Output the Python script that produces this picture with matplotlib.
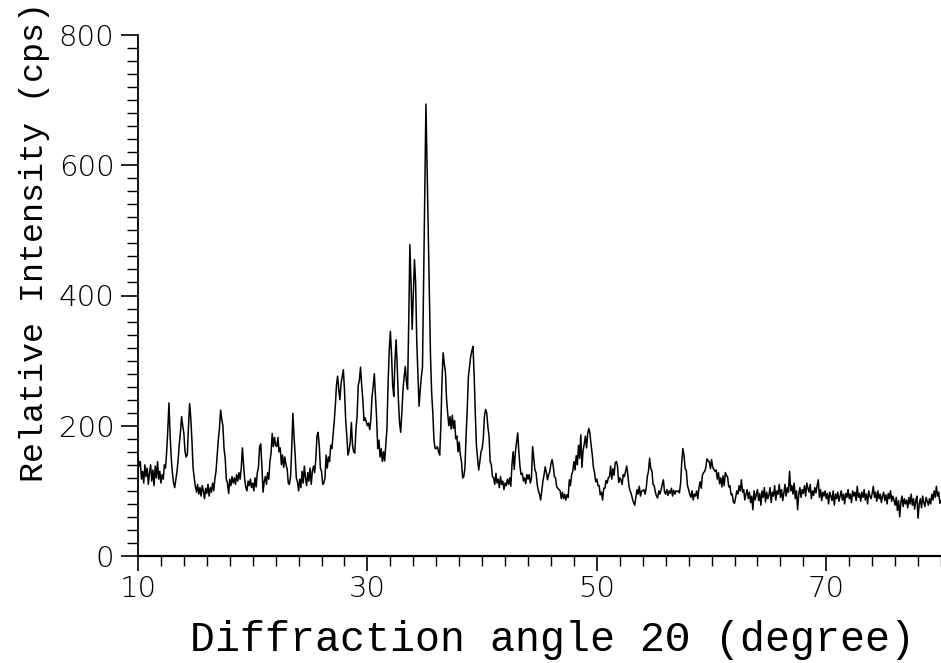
import matplotlib
matplotlib.use("Agg")
import matplotlib.pyplot as plt
import numpy as np
from matplotlib.ticker import FixedLocator, MultipleLocator

# XRD scan, 0.1 degree steps; one row per degree starting at 10.0
ANGLE_START = 10.0
ANGLE_STEP = 0.1
intensity_rows = [
    [150, 138, 145, 118, 130, 112, 140, 122, 135, 110],  # 10
    [128, 140, 115, 132, 108, 138, 120, 145, 118, 130],
    [112, 125, 118, 140, 135, 160, 195, 235, 185, 150],
    [128, 112, 105, 118, 130, 148, 172, 190, 214, 200],
    [188, 160, 152, 156, 198, 234, 212, 178, 136, 120],
    [107, 98, 110, 95, 105, 92, 108, 100, 88, 104],  # 15
    [96, 110, 92, 105, 98, 112, 100, 118, 130, 155],
    [178, 196, 224, 210, 200, 165, 150, 118, 112, 96],
    [118, 108, 122, 112, 120, 110, 125, 115, 128, 118],
    [135, 166, 140, 118, 105, 100, 115, 108, 118, 105],
    [112, 100, 120, 106, 128, 136, 168, 172, 138, 98],  # 20
    [114, 122, 110, 128, 118, 145, 158, 188, 168, 182],
    [170, 168, 182, 160, 166, 140, 155, 136, 152, 140],
    [134, 112, 110, 122, 165, 219, 184, 155, 120, 114],
    [100, 118, 105, 130, 112, 138, 120, 108, 128, 115],
    [135, 110, 130, 138, 128, 148, 184, 190, 170, 135],  # 25
    [130, 110, 112, 120, 155, 135, 152, 145, 170, 165],
    [185, 205, 230, 262, 276, 255, 240, 265, 275, 286],
    [255, 210, 185, 155, 162, 175, 205, 170, 160, 158],
    [195, 215, 262, 270, 290, 262, 240, 208, 212, 206],
    [200, 204, 194, 210, 245, 260, 280, 245, 212, 165],  # 30
    [178, 152, 165, 145, 160, 146, 170, 195, 265, 315],
    [345, 310, 262, 245, 300, 332, 290, 240, 205, 190],
    [220, 255, 275, 291, 268, 256, 360, 478, 420, 348],
    [400, 455, 420, 330, 280, 230, 255, 275, 290, 430],
    [560, 694, 600, 500, 400, 306, 250, 220, 178, 165],  # 35
    [165, 168, 160, 155, 200, 270, 312, 295, 282, 240],
    [218, 200, 214, 195, 216, 196, 208, 180, 184, 160],
    [175, 155, 145, 120, 122, 135, 185, 225, 275, 290],
    [306, 315, 322, 280, 220, 170, 150, 132, 145, 160],
    [165, 180, 215, 225, 220, 198, 185, 145, 140, 122],  # 40
    [120, 110, 127, 112, 118, 105, 122, 110, 115, 102],
    [112, 108, 118, 110, 120, 107, 140, 160, 133, 160],
    [175, 189, 160, 137, 125, 127, 115, 120, 111, 125],
    [118, 125, 112, 120, 168, 150, 132, 128, 110, 100],
    [95, 86, 100, 115, 125, 137, 128, 117, 125, 130],  # 45
    [142, 148, 138, 122, 120, 106, 104, 102, 100, 88],
    [98, 88, 95, 86, 94, 90, 117, 108, 125, 130],
    [145, 132, 154, 140, 170, 150, 186, 136, 162, 172],
    [184, 166, 188, 196, 188, 170, 156, 136, 128, 114],
    [118, 108, 108, 94, 98, 86, 104, 104, 116, 112],  # 50
    [120, 122, 138, 118, 134, 124, 143, 145, 138, 113],
    [120, 117, 110, 125, 122, 130, 138, 125, 107, 100],
    [95, 88, 82, 78, 90, 102, 95, 107, 92, 100],
    [100, 102, 95, 104, 122, 130, 150, 134, 131, 110],
    [108, 98, 92, 89, 100, 95, 102, 110, 117, 98],  # 55
    [95, 102, 93, 100, 96, 104, 92, 101, 95, 100],
    [99, 100, 97, 112, 144, 165, 154, 134, 131, 108],
    [102, 95, 90, 100, 86, 95, 92, 100, 88, 105],
    [114, 104, 124, 128, 130, 136, 149, 146, 145, 134],
    [148, 136, 133, 130, 132, 118, 128, 111, 120, 106],  # 60
    [123, 108, 128, 124, 121, 106, 108, 94, 95, 83],
    [81, 90, 100, 95, 108, 100, 117, 98, 102, 86],
    [95, 102, 88, 98, 82, 92, 71, 100, 86, 95],
    [102, 85, 96, 78, 100, 90, 105, 83, 98, 88],
    [94, 105, 82, 98, 92, 108, 86, 100, 95, 110],  # 65
    [90, 102, 85, 96, 110, 92, 105, 98, 130, 100],
    [108, 95, 112, 88, 100, 71, 95, 105, 90, 102],
    [96, 108, 92, 112, 104, 98, 110, 88, 100, 93],
    [105, 97, 108, 117, 90, 102, 85, 98, 92, 100],
    [88, 96, 80, 98, 92, 85, 100, 78, 95, 88],  # 70
    [98, 84, 92, 100, 86, 95, 80, 96, 90, 102],
    [88, 95, 82, 100, 92, 98, 85, 107, 90, 96],
    [84, 98, 90, 102, 86, 95, 80, 100, 92, 88],
    [96, 107, 90, 98, 84, 100, 88, 95, 82, 92],
    [98, 85, 94, 80, 96, 88, 100, 84, 92, 86],  # 75
    [78, 90, 70, 85, 60, 82, 92, 76, 88, 80],
    [86, 74, 90, 80, 95, 78, 88, 72, 85, 92],
    [58, 80, 88, 74, 92, 82, 76, 90, 84, 78],
    [88, 80, 95, 86, 100, 90, 107, 92, 98, 81],
    [85],  # 80
]

x_ticks = [10, 30, 50, 70]
y_ticks = [0, 200, 400, 600, 800]
x_label = "Diffraction angle 2\u0398 (degree)"
y_label = "Relative Intensity (cps)"

angles = []
counts = []
for i, row in enumerate(intensity_rows):
    for k, v in enumerate(row):
        angles.append(ANGLE_START + i + k * ANGLE_STEP)
        counts.append(v)
angles = np.array(angles)
counts = np.array(counts)

fig = plt.figure(figsize=(9.41, 6.63), dpi=100)
ax = fig.add_axes([138 / 941, 1 - 556 / 663, 1 - 138 / 941, (556 - 35) / 663])

ax.plot(angles, counts, color="black", lw=1.1)

ax.set_xlim(10, 80)
ax.set_ylim(0, 800)
ax.spines["top"].set_visible(False)
ax.spines["right"].set_visible(False)
ax.spines["left"].set_linewidth(1.3)
ax.spines["bottom"].set_linewidth(1.6)

ax.xaxis.set_major_locator(FixedLocator(x_ticks))
ax.xaxis.set_minor_locator(MultipleLocator(2))
ax.yaxis.set_major_locator(FixedLocator(y_ticks))
ax.yaxis.set_minor_locator(MultipleLocator(20))

tick_font = dict(family="DejaVu Sans", weight="light", size=21)
ax.tick_params(axis="x", which="major", length=11, width=1.2, pad=3)
ax.tick_params(axis="x", which="minor", length=7, width=1.0)
ax.tick_params(axis="y", which="major", length=12, width=1.2, pad=5)
ax.tick_params(axis="y", which="minor", length=8, width=1.0)
ax.set_xticklabels([str(t) for t in x_ticks], fontdict=tick_font)
ax.set_yticklabels([str(t) for t in y_ticks], fontdict=tick_font)

fig.text(552 / 941, 1 - 640 / 663, x_label, family="Liberation Mono",
         fontsize=30, ha="center", va="center")
fig.text(35 / 941, 1 - 242 / 663, y_label, family="Liberation Mono",
         fontsize=24, ha="center", va="center", rotation=90)

fig.savefig("out.png", dpi=100)
